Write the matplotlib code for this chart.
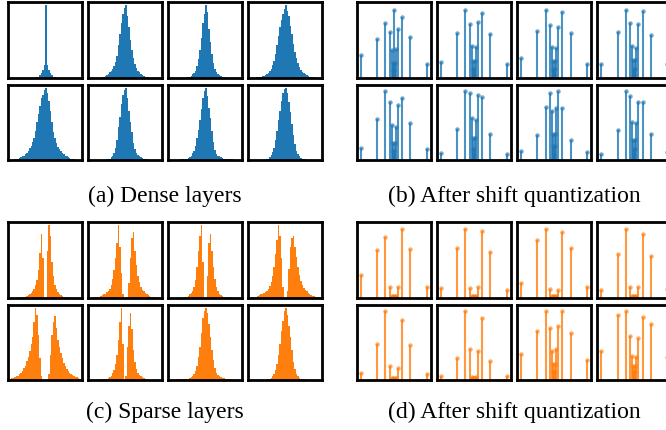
import numpy as np
import matplotlib
matplotlib.use("Agg")
import matplotlib.pyplot as plt

BLUE = "#1f77b4"
ORANGE = "#ff7f0e"

# ---------------- histogram data (start bin, relative heights; 50 bins per axis) -------------
dense_start = [19, 9, 12, 5, 4, 12, 8, 12]
dense_hist = [
    [0.01, 0.02, 0.04, 0.07, 0.11, 0.18, 1.0, 0.18, 0.11, 0.07, 0.04, 0.02, 0.01],
    [0.01, 0.02, 0.03, 0.04, 0.06, 0.08, 0.1, 0.13, 0.17, 0.22, 0.3, 0.45, 0.6, 0.75, 0.88, 0.96,
     1.0, 0.85, 0.7, 0.52, 0.38, 0.27, 0.19, 0.14, 0.1, 0.08, 0.06, 0.04, 0.03, 0.02, 0.02, 0.01],
    [0.01, 0.02, 0.02, 0.03, 0.05, 0.07, 0.1, 0.16, 0.26, 0.38, 0.55, 0.75, 0.88, 1.0, 0.9, 0.68,
     0.5, 0.33, 0.2, 0.13, 0.08, 0.05, 0.04, 0.03, 0.02, 0.01],
    [0.01, 0.01, 0.02, 0.02, 0.03, 0.03, 0.04, 0.05, 0.07, 0.09, 0.13, 0.18, 0.24, 0.33, 0.45, 0.58,
     0.7, 0.8, 0.88, 0.95, 1.0, 0.92, 0.85, 0.72, 0.6, 0.47, 0.36, 0.27, 0.2, 0.15, 0.11, 0.08,
     0.07, 0.05, 0.04, 0.03, 0.02, 0.02, 0.01, 0.01],
    [0.01, 0.01, 0.02, 0.03, 0.04, 0.05, 0.06, 0.08, 0.1, 0.13, 0.16, 0.2, 0.25, 0.3, 0.4, 0.52,
     0.63, 0.75, 0.85, 0.9, 0.97, 1.0, 0.93, 0.82, 0.68, 0.52, 0.38, 0.3, 0.23, 0.18, 0.15, 0.12,
     0.1, 0.08, 0.06, 0.05, 0.04, 0.03, 0.02, 0.01, 0.01],
    [0.01, 0.01, 0.02, 0.04, 0.06, 0.1, 0.17, 0.28, 0.45, 0.6, 0.78, 0.9, 0.97, 1.0, 0.85, 0.68,
     0.52, 0.38, 0.24, 0.15, 0.1, 0.07, 0.05, 0.04, 0.03, 0.02, 0.01, 0.01],
    [0.01, 0.01, 0.01, 0.02, 0.02, 0.03, 0.04, 0.06, 0.09, 0.13, 0.2, 0.3, 0.42, 0.55, 0.7, 0.85,
     0.95, 1.0, 0.88, 0.72, 0.58, 0.4, 0.25, 0.14, 0.08, 0.06, 0.05, 0.04, 0.03, 0.02, 0.02, 0.01,
     0.01, 0.01, 0.01, 0.01],
    [0.01, 0.02, 0.04, 0.07, 0.11, 0.17, 0.27, 0.4, 0.55, 0.68, 0.82, 0.92, 0.98, 1.0, 0.92, 0.8,
     0.66, 0.5, 0.35, 0.22, 0.13, 0.08, 0.05, 0.03, 0.02, 0.01, 0.01],
]

sparse_start = [8, 3, 10, 2, 1, 8, 5, 12]
sparse_hist = [
    [0.01, 0.01, 0.01, 0.02, 0.03, 0.04, 0.05, 0.07, 0.09, 0.13, 0.18, 0.25, 0.38, 0.62, 0.88, 0.55,
     0.0, 0.0, 0.65, 1.0, 0.85, 0.5, 0.3, 0.18, 0.12, 0.08, 0.05, 0.04, 0.03, 0.02, 0.02, 0.01,
     0.01, 0.01],
    [0.01, 0.01, 0.01, 0.02, 0.02, 0.03, 0.04, 0.05, 0.06, 0.08, 0.1, 0.13, 0.18, 0.26, 0.38, 0.55,
     0.75, 1.0, 0.7, 0.35, 0.05, 0.0, 0.0, 0.02, 0.2, 0.55, 0.82, 0.9, 0.65, 0.45, 0.3, 0.22,
     0.15, 0.11, 0.09, 0.07, 0.05, 0.04, 0.03, 0.02, 0.02, 0.01, 0.01],
    [0.01, 0.01, 0.02, 0.03, 0.05, 0.07, 0.1, 0.15, 0.25, 0.42, 0.65, 0.85, 1.0, 0.5, 0.0, 0.0,
     0.3, 0.75, 0.88, 0.65, 0.43, 0.26, 0.15, 0.1, 0.06, 0.04, 0.03, 0.02, 0.02, 0.01, 0.01, 0.01,
     0.01, 0.01],
    [0.01, 0.01, 0.02, 0.02, 0.03, 0.04, 0.05, 0.06, 0.07, 0.08, 0.1, 0.13, 0.17, 0.22, 0.3, 0.42,
     0.6, 0.8, 1.0, 0.85, 0.55, 0.15, 0.0, 0.0, 0.1, 0.4, 0.7, 0.82, 0.85, 0.7, 0.56, 0.42, 0.32,
     0.24, 0.18, 0.14, 0.11, 0.09, 0.07, 0.05, 0.04, 0.03, 0.03, 0.02, 0.02, 0.01, 0.01],
    [0.02, 0.03, 0.03, 0.04, 0.05, 0.06, 0.08, 0.1, 0.13, 0.17, 0.2, 0.26, 0.32, 0.4, 0.5, 0.6,
     0.8, 1.0, 0.9, 0.62, 0.3, 0.05, 0.0, 0.0, 0.0, 0.0, 0.08, 0.35, 0.62, 0.8, 0.88, 0.72, 0.55,
     0.45, 0.37, 0.3, 0.24, 0.19, 0.15, 0.12, 0.1, 0.08, 0.07, 0.05, 0.04, 0.04, 0.03, 0.02, 0.02],
    [0.01, 0.01, 0.01, 0.02, 0.02, 0.03, 0.04, 0.06, 0.09, 0.14, 0.22, 0.35, 0.55, 0.8, 1.0, 0.5,
     0.0, 0.05, 0.45, 0.75, 0.92, 0.7, 0.42, 0.25, 0.15, 0.1, 0.07, 0.05, 0.04, 0.03, 0.02, 0.01,
     0.01],
    [0.01, 0.01, 0.01, 0.01, 0.01, 0.01, 0.02, 0.02, 0.02, 0.03, 0.04, 0.06, 0.08, 0.13, 0.2, 0.32,
     0.46, 0.65, 0.85, 0.95, 1.0, 0.92, 0.78, 0.6, 0.42, 0.28, 0.16, 0.1, 0.07, 0.05, 0.04, 0.03,
     0.03, 0.02, 0.02, 0.01, 0.01, 0.01],
    [0.01, 0.01, 0.02, 0.03, 0.05, 0.08, 0.14, 0.22, 0.35, 0.5, 0.68, 0.82, 0.95, 1.0, 0.9, 0.75,
     0.6, 0.42, 0.25, 0.15, 0.08, 0.05, 0.03, 0.02, 0.02, 0.01, 0.01],
]

# ---------------- shift-quantized values (powers of two) and their relative counts ----------
levels = [-1, -1/2, -1/4, -1/8, -1/16, -1/32, -1/64, 0, 1/64, 1/32, 1/16, 1/8, 1/4, 1/2, 1]

dense_q = [
    [0.30, 0.52, 0.73, 0.61, 0.37, 0.20, 0.10, 0.90, 0.10, 0.20, 0.38, 0.65, 0.81, 0.54, 0.18],
    [0.21, 0.59, 0.90, 0.71, 0.42, 0.22, 0.12, 0.05, 0.12, 0.22, 0.41, 0.74, 0.86, 0.58, 0.18],
    [0.26, 0.62, 0.90, 0.70, 0.41, 0.22, 0.12, 0.05, 0.12, 0.22, 0.39, 0.68, 0.87, 0.59, 0.18],
    [0.19, 0.61, 0.90, 0.73, 0.42, 0.24, 0.12, 0.05, 0.12, 0.24, 0.40, 0.71, 0.89, 0.57, 0.18],
    [0.16, 0.55, 0.91, 0.77, 0.46, 0.23, 0.12, 0.05, 0.12, 0.23, 0.44, 0.73, 0.82, 0.49, 0.15],
    [0.09, 0.41, 0.91, 0.89, 0.56, 0.29, 0.15, 0.06, 0.15, 0.29, 0.53, 0.86, 0.84, 0.35, 0.08],
    [0.12, 0.33, 0.71, 0.89, 0.65, 0.35, 0.18, 0.07, 0.18, 0.35, 0.69, 0.91, 0.69, 0.26, 0.10],
    [0.08, 0.40, 0.91, 0.85, 0.51, 0.27, 0.14, 0.06, 0.14, 0.27, 0.49, 0.77, 0.77, 0.34, 0.10],
]

sparse_q = [
    [0.30, 0.64, 0.80, 0.15, 0.03, 0.02, 0.01, 0.0, 0.01, 0.02, 0.03, 0.15, 0.91, 0.65, 0.14],
    [0.13, 0.66, 0.91, 0.13, 0.03, 0.02, 0.01, 0.0, 0.01, 0.02, 0.03, 0.14, 0.88, 0.61, 0.11],
    [0.20, 0.77, 0.91, 0.12, 0.03, 0.02, 0.01, 0.0, 0.01, 0.02, 0.03, 0.11, 0.87, 0.66, 0.14],
    [0.11, 0.58, 0.91, 0.15, 0.03, 0.02, 0.01, 0.0, 0.01, 0.02, 0.03, 0.15, 0.85, 0.55, 0.12],
    [0.09, 0.48, 0.91, 0.19, 0.03, 0.02, 0.01, 0.0, 0.01, 0.02, 0.03, 0.16, 0.80, 0.46, 0.08],
    [0.05, 0.29, 0.91, 0.41, 0.04, 0.03, 0.02, 0.0, 0.02, 0.03, 0.04, 0.38, 0.82, 0.25, 0.05],
    [0.34, 0.65, 0.91, 0.69, 0.39, 0.21, 0.11, 0.05, 0.11, 0.21, 0.41, 0.72, 0.91, 0.62, 0.26],
    [0.38, 0.86, 0.91, 0.59, 0.32, 0.19, 0.10, 0.05, 0.10, 0.19, 0.31, 0.56, 0.84, 0.74, 0.30],
]

captions = ["(a) Dense layers", "(b) After shift quantization",
            "(c) Sparse layers", "(d) After shift quantization"]

# ---------------- layout (pixels of a 666 x 431 canvas) ----------------
W, H = 666, 431
fig = plt.figure(figsize=(W / 100, H / 100), dpi=100)

left_cols = [8.3, 88.3, 168.3, 248.3]
right_cols = [356.7, 436.7, 517.0, 597.3]
top_rows = [(3.3, 79.0), (85.7, 161.0)]
bot_rows = [(223.3, 299.0), (305.7, 381.0)]
AW = 74.0


def make_ax(x0, y0, y1):
    ax = fig.add_axes([x0 / W, 1 - y1 / H, AW / W, (y1 - y0) / H])
    ax.set_xticks([])
    ax.set_yticks([])
    for s in ax.spines.values():
        s.set_linewidth(2.0)
        s.set_color("black")
    return ax


def draw_hist(ax, start, vals, color):
    edges = np.arange(start, start + len(vals) + 1)
    ax.stairs(vals, edges, fill=True, color=color, linewidth=0.3)
    ax.set_xlim(0, 50)
    ax.set_ylim(0, 1.04)


def draw_stem(ax, vals, color):
    ax.vlines(levels, 0, vals, colors=color, linewidth=1.5, alpha=0.8)
    ax.plot(levels, vals, linestyle="none", marker="o", markersize=3.2,
            color=color, alpha=0.65, markeredgewidth=0)
    ax.set_xlim(-1.115, 1.115)
    ax.set_ylim(0, 1.0)


for r, (y0, y1) in enumerate(top_rows):
    for c in range(4):
        i = r * 4 + c
        draw_hist(make_ax(left_cols[c], y0, y1), dense_start[i], dense_hist[i], BLUE)
        draw_stem(make_ax(right_cols[c], y0, y1), dense_q[i], BLUE)

for r, (y0, y1) in enumerate(bot_rows):
    for c in range(4):
        i = r * 4 + c
        draw_hist(make_ax(left_cols[c], y0, y1), sparse_start[i], sparse_hist[i], ORANGE)
        draw_stem(make_ax(right_cols[c], y0, y1), sparse_q[i], ORANGE)

cap_font = dict(family="Liberation Serif", fontsize=17, ha="center", va="center")
fig.text(165 / W, 1 - 196 / H, captions[0], **cap_font)
fig.text(514 / W, 1 - 196 / H, captions[1], **cap_font)
fig.text(165 / W, 1 - 412 / H, captions[2], **cap_font)
fig.text(514 / W, 1 - 412 / H, captions[3], **cap_font)

fig.savefig("out.png", dpi=100)
